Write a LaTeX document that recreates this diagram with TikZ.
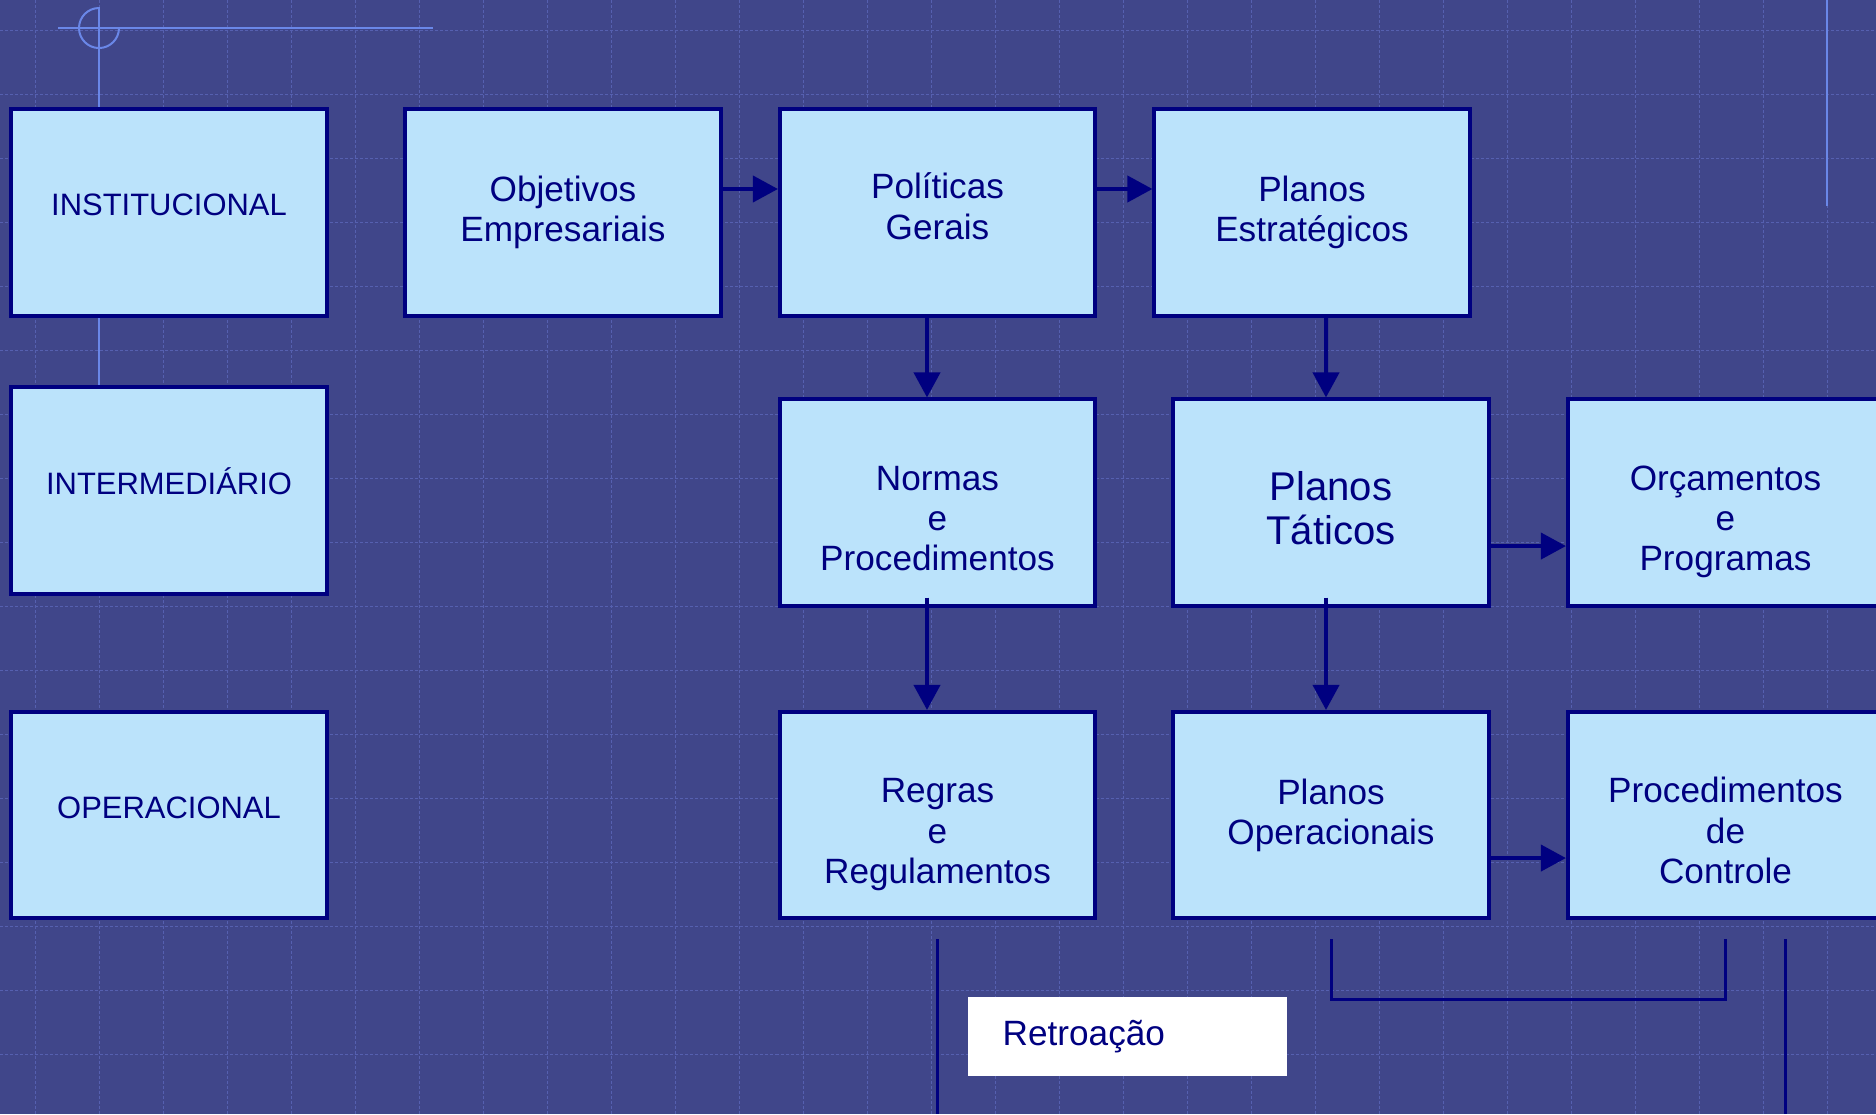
\documentclass[tikz,border=0pt]{standalone}
\usepackage{fontspec}
\setmainfont{Liberation Sans}
\usetikzlibrary{arrows.meta}

\definecolor{fundo}{RGB}{64,70,138}
\definecolor{grade}{RGB}{86,96,176}
\definecolor{caixa}{RGB}{187,227,251}
\definecolor{marinho}{RGB}{0,0,128}
\definecolor{guia}{RGB}{106,135,232}

% texto de varias linhas, deslocado na vertical sem mudar a caixa
\newcommand{\linhas}[2][0pt]{\raisebox{#1}[\height][\depth]{\begin{tabular}{@{}c@{}}#2\end{tabular}}}

\begin{document}
\begin{tikzpicture}[x=0.01cm, y=-0.01cm,
  nivel/.style={draw=marinho, fill=caixa, line width=0.04cm, minimum width=3.16cm,
    minimum height=2.06cm, text=marinho, align=center, font=\fontsize{8.8}{11}\selectfont},
  etapa/.style={nivel, minimum width=3.15cm, font=\fontsize{10}{11.4}\selectfont},
  seta/.style={draw=marinho, line width=0.04cm, -{Triangle[length=0.25cm,width=0.26cm]}},
  linha/.style={draw=marinho, line width=0.03cm},
  guia/.style={draw=guia, line width=0.02cm},
  gradeado/.style={draw=grade, line width=0.01cm, dash pattern=on 0.03cm off 0.02cm},
  retro/.style={fill=white, text=marinho, minimum height=0.79cm, inner ysep=0pt,
    inner xsep=0.35cm, text width=2.49cm, align=left, font=\fontsize{10}{11.4}\selectfont}]

\useasboundingbox (0,0) rectangle (1876,1114);
\clip (0,0) rectangle (1876,1114);
\fill[fundo] (0,0) rectangle (1876,1114);

% grade do fundo
\foreach \x in {35,99,...,1875}
  \draw[gradeado] (\x,0) -- (\x,1114);
\foreach \y in {30,94,...,1114}
  \draw[gradeado] (0,\y) -- (1876,\y);

\draw[guia] (58,28) -- (433,28);
\draw[guia] (99,7) -- (99,388);
\draw[guia] (99,8) arc[start angle=90, end angle=360, radius=0.2cm];
\draw[guia] (1827,0) -- (1827,206);

% niveis
\node[nivel] (inst) at (169,212.5) {\linhas[0.05cm]{INSTITUCIONAL}};
\node[nivel] (inter) at (169,490.5) {\linhas[0.035cm]{INTERMEDIÁRIO}};
\node[nivel] (oper) at (169,815) {\linhas[0.04cm]{OPERACIONAL}};

\node[etapa] (obj) at (563,212.5) {Objetivos\\Empresariais};
\node[etapa] (pol) at (937.5,212.5) {\linhas[0.015cm]{Políticas\\Gerais}};
\node[etapa] (est) at (1312,212.5) {Planos\\Estratégicos};

\node[etapa] (norm) at (937.5,502.5) {\linhas[-0.2cm]{Normas\\e\\Procedimentos}};
\node[etapa, font=\fontsize{11.4}{12.5}\selectfont] (tat) at (1331,502.5) {\linhas[-0.11cm]{Planos\\Táticos}};
\node[etapa] (orc) at (1725.5,502.5) {\linhas[-0.2cm]{Orçamentos\\e\\Programas}};

\node[etapa] (reg) at (937.5,815) {\linhas[-0.2cm]{Regras\\e\\Regulamentos}};
\node[etapa] (opc) at (1331,815) {Planos\\Operacionais};
\node[etapa] (proc) at (1725.5,815) {\linhas[-0.2cm]{Procedimentos\\de\\Controle}};

\node[retro, anchor=north west] (ret) at (967,996) {Retroação};

\draw[seta] ([yshift=0.235cm]obj.east) -- ([yshift=0.235cm]pol.west);
\draw[seta] ([yshift=0.235cm]pol.east) -- ([yshift=0.235cm]est.west);
\draw[seta] ([xshift=-0.105cm]pol.south) -- ([xshift=-0.105cm]norm.north);
\draw[seta] ([xshift=0.14cm]est.south) -- ([xshift=-0.05cm]tat.north);
\draw[seta] ([xshift=-0.105cm,yshift=0.1cm]norm.south) -- ([xshift=-0.105cm]reg.north);
\draw[seta] ([xshift=-0.05cm,yshift=0.1cm]tat.south) -- ([xshift=-0.05cm]opc.north);
\draw[seta] ([yshift=-0.435cm]tat.east) -- ([yshift=-0.435cm]orc.west);
\draw[seta] ([yshift=-0.43cm]opc.east) -- ([yshift=-0.43cm]proc.west);

% linhas de retroacao
\coordinate (fim) at (0,1114);
\coordinate (retorno) at ([xshift=0.6cm,yshift=-0.19cm]proc.south);
\draw[linha] ([yshift=-0.19cm]reg.south) -- (reg.south |- fim);
\draw[linha] ([yshift=-0.19cm]opc.south) |- ([yshift=-0.79cm]proc.south) -- ([yshift=-0.19cm]proc.south);
\draw[linha] (retorno) -- (retorno |- fim);

\end{tikzpicture}
\end{document}
